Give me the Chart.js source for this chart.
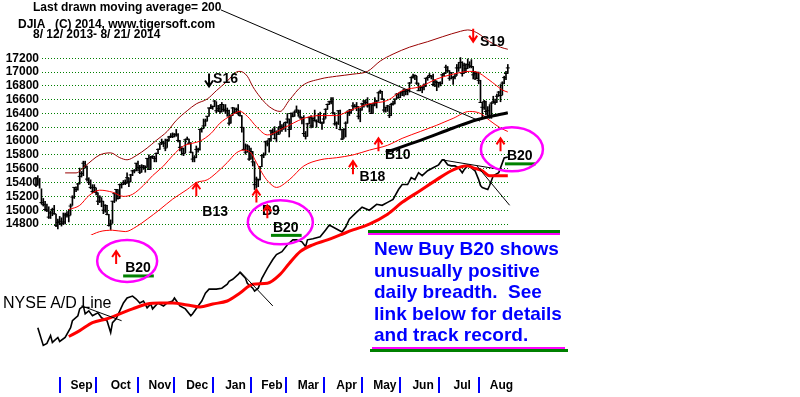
<!DOCTYPE html>
<html>
<head>
<meta charset="utf-8">
<title>DJIA 8/12/2013 - 8/21/2014 with NYSE A/D Line</title>
<script src="https://cdn.jsdelivr.net/npm/chart.js@4.4.1/dist/chart.umd.min.js"></script>
<style>
  html, body { margin: 0; padding: 0; background: #fff; }
  #wrap { position: relative; width: 800px; height: 397px; overflow: hidden; font-family: 'Liberation Sans', Arial, sans-serif; }
  #chart { position: absolute; left: 0; top: 0; }
  .hdr { position: absolute; font-weight: bold; font-size: 12px; line-height: 14px; color: #000; white-space: pre; }
  #adLabel { position: absolute; left: 3px; top: 294px; font-size: 16px; line-height: 18px; color: #000; white-space: nowrap; }
  #note { position: absolute; left: 374px; top: 238px; font-weight: bold; font-size: 19px; line-height: 21.5px; color: #0000ff; white-space: pre; }
  .rule { position: absolute; }
</style>
</head>
<body>
<div id="wrap">
  <canvas id="chart" width="800" height="397"></canvas>
  <div class="hdr" style="left:33px;top:0px">Last drawn moving average= 200</div>
  <div class="hdr" style="left:18px;top:17px">DJIA   (C) 2014, www.tigersoft.com</div>
  <div class="hdr" style="left:33px;top:27px">8/ 12/ 2013- 8/ 21/ 2014</div>
  <div id="adLabel">NYSE A/D Line</div>
  <div class="rule" style="left:368px;top:230px;width:192px;height:3px;background:#008000"></div>
  <div class="rule" style="left:368px;top:233px;width:192px;height:2px;background:#ff00ff"></div>
  <div class="rule" style="left:372px;top:347px;width:193px;height:2px;background:#ff00ff"></div>
  <div class="rule" style="left:370px;top:349px;width:198px;height:3px;background:#008000"></div>
  <div id="note">New Buy B20 shows
unusually positive
daily breadth.  See
link below for details
and track record.</div>
</div>
<script>
// ---- data: trading days 0..259 = 8/12/2013 .. 8/21/2014 ----
const monthLabels = ['Sep', 'Oct', 'Nov', 'Dec', 'Jan', 'Feb', 'Mar', 'Apr', 'May', 'Jun', 'Jul', 'Aug'];
const monthStarts = [15, 35, 58, 78, 99, 120, 139, 160, 181, 202, 223, 245];
const yTicks = [14800, 15000, 15200, 15400, 15600, 15800, 16000, 16200, 16400, 16600, 16800, 17000, 17200];

const closes = [
  15420, 15450, 15340, 15110, 15080, 15010, 15000, 14900, 14960, 15010, 14950, 14780, 14820, 14840, 14810,
  14830, 14930, 14940, 14920, 15060, 15190, 15330, 15300, 15380, 15490, 15530, 15680, 15640, 15450, 15400, 15330, 15270, 15330, 15260, 15130,
  15190, 15130, 15000, 15070, 14940, 14780, 14800, 15130, 15240, 15300, 15170, 15370, 15370, 15400, 15390, 15470, 15410, 15510, 15570, 15570, 15680, 15620, 15550,
  15620, 15640, 15620, 15750, 15590, 15760, 15780, 15750, 15820, 15880, 15960, 15980, 15970, 15900, 16010, 16060, 16070, 16070, 16100, 16090,
  16010, 15910, 15890, 15820, 16020, 16030, 15970, 15840, 15740, 15760, 15880, 15880, 16170, 16180, 16220, 16290, 16360, 16480, 16480, 16500, 16580,
  16440, 16470, 16430, 16530, 16460, 16440, 16440, 16260, 16370, 16480, 16420, 16460, 16410, 16370, 16200, 15880, 15840, 15930, 15740, 15850, 15700,
  15370, 15450, 15440, 15630, 15790, 15800, 15990, 15960, 16030, 16150, 16130, 16040, 16130, 16100, 16210, 16180, 16200, 16270, 16320,
  16170, 16400, 16360, 16420, 16450, 16420, 16350, 16340, 16110, 16070, 16250, 16340, 16220, 16330, 16300, 16280, 16370, 16270, 16260, 16320, 16460,
  16530, 16570, 16570, 16410, 16250, 16260, 16440, 16170, 16030, 16170, 16260, 16420, 16410, 16450, 16510, 16500, 16500, 16360, 16450, 16540, 16580,
  16560, 16510, 16530, 16400, 16520, 16550, 16580, 16700, 16720, 16610, 16450, 16490, 16510, 16370, 16530, 16540, 16610, 16680, 16630, 16700, 16720,
  16740, 16720, 16740, 16840, 16920, 16940, 16950, 16840, 16730, 16780, 16780, 16810, 16910, 16920, 16950, 16940, 16820, 16870, 16850, 16850, 16830,
  16960, 16980, 17070, 17020, 16910, 16990, 16920, 16940, 17060, 17060, 17140, 16980, 17100, 17050, 17110, 17090, 17080, 16960, 16980, 16910, 16880, 16560,
  16490, 16570, 16430, 16440, 16370, 16550, 16570, 16560, 16650, 16710, 16660, 16840, 16920, 16980, 17060
];
const highs = [
  15460, 15500, 15460, 15310, 15170, 15130, 15090, 15050, 14990, 15030, 15070, 14940, 14870, 14910, 14890,
  14960, 14960, 14980, 15010, 15090, 15210, 15330, 15340, 15390, 15610, 15560, 15710, 15710, 15640, 15470, 15440, 15370, 15370, 15320, 15250,
  15210, 15180, 15130, 15080, 15070, 14940, 14860, 15130, 15250, 15300, 15300, 15380, 15390, 15430, 15440, 15540, 15470, 15520, 15580, 15590, 15680, 15710, 15650,
  15660, 15650, 15640, 15750, 15800, 15780, 15790, 15780, 15830, 15890, 15960, 16030, 16000, 16030, 16030, 16070, 16110, 16120, 16110, 16170,
  16110, 16010, 15920, 15900, 16030, 16060, 16030, 15980, 15840, 15790, 15930, 15900, 16170, 16190, 16320, 16320, 16360, 16480, 16530, 16510, 16590,
  16570, 16520, 16530, 16560, 16530, 16530, 16480, 16450, 16380, 16490, 16480, 16480, 16530, 16440, 16370, 16200, 15960, 15950, 15930, 15900, 15850,
  15700, 15480, 15450, 15630, 15800, 15830, 16000, 16010, 16040, 16160, 16180, 16210, 16150, 16200, 16290, 16240, 16260, 16280, 16400,
  16320, 16410, 16410, 16440, 16510, 16450, 16450, 16340, 16370, 16140, 16260, 16350, 16370, 16340, 16450, 16310, 16400, 16420, 16280, 16400, 16470,
  16540, 16580, 16630, 16630, 16410, 16280, 16440, 16450, 16170, 16180, 16280, 16440, 16460, 16460, 16560, 16530, 16560, 16500, 16480, 16550, 16590,
  16600, 16630, 16540, 16530, 16550, 16630, 16590, 16710, 16740, 16720, 16610, 16490, 16520, 16510, 16550, 16580, 16610, 16690, 16690, 16710, 16720,
  16750, 16740, 16750, 16850, 16930, 16970, 16960, 16940, 16840, 16790, 16790, 16830, 16910, 16940, 16980, 16950, 16970, 16890, 16870, 16850, 16860,
  16970, 16990, 17100, 17080, 17020, 16990, 16940, 16970, 17110, 17140, 17210, 17150, 17130, 17120, 17190, 17150, 17180, 17080, 17010, 17000, 17000, 16880,
  16560, 16590, 16580, 16500, 16530, 16560, 16650, 16610, 16680, 16720, 16820, 16860, 16940, 17010, 17110
];
const lows = [
  15340, 15360, 15320, 15090, 15060, 14990, 14980, 14880, 14880, 14920, 14940, 14760, 14730, 14790, 14770,
  14790, 14800, 14900, 14830, 14930, 15070, 15170, 15270, 15290, 15380, 15480, 15500, 15610, 15420, 15370, 15310, 15250, 15260, 15220, 15080,
  15110, 15050, 14950, 14970, 14930, 14770, 14720, 14810, 15110, 15130, 15160, 15170, 15320, 15370, 15370, 15390, 15340, 15410, 15500, 15540, 15570, 15570, 15530,
  15550, 15590, 15550, 15620, 15590, 15590, 15750, 15700, 15700, 15820, 15880, 15950, 15920, 15860, 15910, 16000, 16050, 16050, 16060, 16070,
  15990, 15860, 15800, 15790, 15830, 16020, 15960, 15830, 15700, 15700, 15760, 15840, 15870, 16130, 16180, 16220, 16290, 16360, 16470, 16460, 16500,
  16410, 16430, 16400, 16420, 16430, 16400, 16360, 16230, 16260, 16370, 16400, 16400, 16380, 16360, 16130, 15870, 15810, 15840, 15720, 15740, 15640,
  15300, 15320, 15340, 15440, 15630, 15760, 15800, 15930, 15840, 16000, 16090, 16030, 15990, 16100, 16110, 16140, 16170, 16140, 16260,
  16060, 16170, 16350, 16360, 16420, 16360, 16330, 16250, 16070, 16030, 16070, 16250, 16190, 16200, 16290, 16200, 16280, 16260, 16170, 16260, 16330,
  16460, 16530, 16540, 16390, 16230, 16180, 16240, 16160, 16020, 16040, 16060, 16260, 16370, 16400, 16450, 16490, 16440, 16320, 16280, 16450, 16490,
  16530, 16490, 16420, 16400, 16400, 16510, 16480, 16580, 16690, 16600, 16420, 16420, 16430, 16340, 16370, 16520, 16540, 16610, 16620, 16630, 16660,
  16650, 16670, 16670, 16710, 16840, 16910, 16890, 16820, 16730, 16730, 16700, 16740, 16790, 16880, 16920, 16900, 16800, 16790, 16730, 16780, 16800,
  16830, 16940, 16980, 17000, 16880, 16900, 16820, 16900, 16950, 17010, 17060, 16940, 16980, 16990, 17050, 17060, 17060, 16900, 16890, 16900, 16830, 16560,
  16330, 16460, 16380, 16340, 16330, 16330, 16550, 16530, 16560, 16650, 16570, 16670, 16830, 16890, 16980
];

// price bands (read at irregular trading days)
const upperDays = [16, 22, 27, 35, 41, 46, 50, 55, 61, 66, 72, 77, 83, 88, 94, 99, 105, 110, 112, 116, 119, 123, 128, 134, 139, 146, 156, 165, 174, 182, 189, 196, 205, 215, 223, 233, 237, 242, 249, 255, 259];
const upperBand = [15540, 15540, 15640, 15800, 15830, 15760, 15730, 15790, 15900, 16010, 16140, 16300, 16440, 16540, 16610, 16730, 16870, 17000, 17010, 16940, 16790, 16640, 16500, 16430, 16590, 16800, 16900, 16940, 16970, 17010, 17160, 17260, 17360, 17440, 17510, 17590, 17610, 17570, 17440, 17360, 17330];
const midDays = [18, 24, 29, 35, 42, 48, 53, 59, 64, 70, 75, 81, 86, 90, 96, 101, 107, 112, 116, 121, 127, 136, 147, 156, 165, 172, 183, 193, 201, 211, 220, 229, 238, 242, 248, 253, 256, 259];
const midBand = [15010, 15070, 15210, 15290, 15260, 15200, 15230, 15360, 15500, 15640, 15790, 15930, 15970, 16000, 16110, 16260, 16370, 16430, 16360, 16210, 16090, 16190, 16330, 16370, 16370, 16440, 16540, 16590, 16730, 16790, 16900, 16970, 17010, 17000, 16900, 16800, 16740, 16710];
const lowDays = [18, 23, 28, 35, 42, 49, 55, 61, 68, 75, 83, 88, 94, 99, 105, 110, 114, 118, 121, 125, 128, 132, 139, 147, 156, 165, 174, 183, 193, 201, 211, 220, 229, 238, 244, 249, 255, 259];
const lowBand = [14420, 14540, 14610, 14690, 14710, 14690, 14760, 14870, 15010, 15160, 15300, 15400, 15440, 15540, 15690, 15830, 15870, 15830, 15690, 15500, 15400, 15330, 15440, 15640, 15730, 15760, 15800, 15870, 15940, 16040, 16140, 16230, 16330, 16430, 16400, 16300, 16190, 16140];

// 200-day moving average (last drawn)
const ma200Days = [192, 211, 229, 242, 259];
const ma200 = [15840, 16010, 16190, 16310, 16410];

// long DJIA trendline
const trendDays = [101.5, 243.7];
const trendPrices = [17900, 16290];

// NYSE A/D line (index units) and its moving average
const adDays = [0, 1, 4, 6, 8, 9, 12, 13, 16, 19, 20, 23, 24, 26, 27, 29, 31, 34, 36, 39, 41, 42, 44, 46, 48, 50, 53, 55, 57, 59, 61, 63, 64, 67, 70, 72, 75, 76, 79, 82, 85, 86, 89, 91, 93, 95, 99, 102, 105, 106, 108, 111, 112, 115, 116, 119, 120, 122, 124, 127, 130, 132, 135, 138, 141, 143, 146, 148, 149, 152, 156, 159, 161, 165, 168, 170, 172, 176, 179, 183, 187, 190, 193, 196, 199, 201, 204, 206, 208, 210, 212, 215, 218, 221, 223, 224, 226, 228, 230, 232, 234, 235, 237, 239, 241, 243, 244, 245, 248, 249, 251, 254, 256, 257, 259];
const adLine = [21.2, 19.2, 12, 12.8, 16, 13.2, 15.2, 13.6, 15.2, 19.2, 22, 24, 26.8, 28, 24.8, 26, 24, 25.2, 23.2, 22, 17.2, 21.2, 22.8, 26, 29.2, 31.2, 32, 30.8, 29.2, 30, 27.2, 28.8, 26.8, 29.2, 28, 29.2, 30, 31.2, 28, 26.8, 24, 24.8, 28, 30, 33.2, 34.8, 34.8, 35.2, 36.8, 38, 38.8, 40.8, 41.6, 39.2, 37.2, 35.2, 34, 35.2, 39.2, 43.2, 46.8, 48.8, 50, 52.8, 54.8, 54.8, 54, 52, 54.8, 55.2, 56, 58.8, 60.8, 59.2, 58, 60, 63.2, 66, 68, 66.8, 69.2, 68.8, 70, 71.2, 75.2, 77.2, 77.2, 80, 79.2, 82, 80.8, 82.8, 84, 85.2, 87.2, 87.2, 85.2, 84.8, 84.8, 84, 82, 83.2, 84.8, 84, 82.8, 79.2, 76.8, 76, 75.2, 76.8, 80.8, 82, 86, 88, 88.4];
const adMaDays = [18, 24, 31, 39, 46, 53, 61, 68, 75, 83, 90, 97, 105, 112, 119, 127, 134, 139, 145, 152, 160, 167, 174, 183, 193, 201, 211, 220, 229, 237, 240, 245, 249, 255, 259];
const adMa = [15.6, 18, 21.2, 22.8, 24.8, 26.8, 28.8, 29.2, 29.2, 28.4, 27.6, 28.8, 30, 33.2, 36.8, 37.2, 40.8, 45.2, 50, 52.8, 54.8, 56.8, 58.8, 61.2, 65.2, 70, 74.8, 79.2, 83.2, 84.8, 84, 82.8, 80.8, 80.8, 80.8];
const adTrendDays = [[25, 47], [112, 130], [223, 256], [242, 260]];
const adTrendValues = [[28, 22], [42, 28], [87.2, 83.2], [84.8, 68.8]];

// TigerSoft signals
const signalLabels = ['B20', 'S16', 'B13', 'B9', 'B20', 'B18', 'B10', 'S19', 'B20'];
const signalDays = [44, 95, 88, 121, 127, 174, 188, 240, 255];
const signalLevels = [14410, 16790, 15390, 15300, 15070, 15710, 16040, 17440, 16040];

// ---- drawing ----
Chart.defaults.font.family = "'Liberation Sans', Arial, sans-serif";

// where each signal's text / ring sits relative to its arrow (pixels)
const signalMarks = [
  { color: '#ff0000', dx: 9, dy: 17.5, ring: [11, 10, 30, 21], underline: true },
  { color: '#000000', dx: 4, dy: -7 },
  { color: '#ff0000', dx: 6, dy: 29 },
  { color: '#ff0000', dx: 5.5, dy: 22 },
  { color: '#ff0000', dx: 5.6, dy: 22.5, ring: [13, 17, 32.5, 22], underline: true },
  { color: '#ff0000', dx: 6.6, dy: 16 },
  { color: '#ff0000', dx: 6.5, dy: 17 },
  { color: '#ff0000', dx: 6.7, dy: 0 },
  { color: '#ff0000', dx: 6.4, dy: 18, ring: [11.4, 11, 31, 22], underline: true }
];

function drawArrow(ctx, px, py, up, color) {
  const d = up ? 1 : -1;
  ctx.strokeStyle = color;
  ctx.lineWidth = 2;
  ctx.beginPath();
  ctx.moveTo(px, py + d * 13);
  ctx.lineTo(px, py + d);
  ctx.moveTo(px - 4, py + d * 6);
  ctx.lineTo(px, py);
  ctx.lineTo(px + 4, py + d * 6);
  ctx.stroke();
}

const tigerOverlay = {
  id: 'tigerOverlay',
  afterDraw(chart) {
    const { ctx } = chart;
    const x = chart.scales.x, y = chart.scales.y;
    ctx.save();

    // blue month separators
    ctx.fillStyle = '#0000ff';
    monthStarts.forEach(d => {
      const px = Math.round(x.getPixelForValue(d - 2));
      ctx.fillRect(px - 1, 377, 2, 16);
    });

    // signal arrows, names, rings
    ctx.font = "bold 14px 'Liberation Sans', Arial, sans-serif";
    ctx.textBaseline = 'middle';
    ctx.textAlign = 'left';
    signalLabels.forEach((label, k) => {
      const m = signalMarks[k];
      const px = x.getPixelForValue(signalDays[k]);
      const py = y.getPixelForValue(signalLevels[k]);
      drawArrow(ctx, px, py, label[0] === 'B', m.color);

      const tx = px + m.dx, ty = py + m.dy;
      ctx.fillStyle = '#000';
      ctx.fillText(label, tx, ty);
      const w = ctx.measureText(label).width;

      if (m.underline) {
        ctx.strokeStyle = '#008000';
        ctx.lineWidth = 3;
        ctx.beginPath();
        ctx.moveTo(tx - 2, ty + 7.5);
        ctx.lineTo(tx + w + 3, ty + 7.5);
        ctx.stroke();
      }
      if (m.ring) {
        ctx.strokeStyle = '#ff00ff';
        ctx.lineWidth = 2.5;
        ctx.beginPath();
        ctx.ellipse(px + m.ring[0], py + m.ring[1], m.ring[2], m.ring[3], 0, 0, Math.PI * 2);
        ctx.stroke();
      }
    });
    ctx.restore();
  }
};

const xy = (days, vals) => days.map((d, i) => ({ x: d, y: vals[i] }));
const lineStyle = { type: 'line', pointRadius: 0, fill: false, clip: false };

const datasets = [];
adTrendDays.forEach((days, k) => {
  datasets.push({ ...lineStyle, data: xy(days, adTrendValues[k]), yAxisID: 'yad', borderColor: '#000', borderWidth: 1 });
});
datasets.push({ ...lineStyle, data: xy(trendDays, trendPrices), borderColor: '#000', borderWidth: 1 });
datasets.push({ ...lineStyle, data: xy(adMaDays, adMa), yAxisID: 'yad', borderColor: '#ff0000', borderWidth: 3, cubicInterpolationMode: 'monotone' });
datasets.push({ ...lineStyle, data: xy(adDays, adLine), yAxisID: 'yad', borderColor: '#000', borderWidth: 1.6 });
datasets.push({ ...lineStyle, data: xy(ma200Days, ma200), borderColor: '#000', borderWidth: 3, cubicInterpolationMode: 'monotone' });
datasets.push({ ...lineStyle, data: xy(upperDays, upperBand), borderColor: '#990000', borderWidth: 1, cubicInterpolationMode: 'monotone' });
datasets.push({ ...lineStyle, data: xy(midDays, midBand), borderColor: '#ff0000', borderWidth: 1, cubicInterpolationMode: 'monotone' });
datasets.push({ ...lineStyle, data: xy(lowDays, lowBand), borderColor: '#ff0000', borderWidth: 1, cubicInterpolationMode: 'monotone',
  clip: { left: 0, top: 0, right: 0, bottom: -140 } });
datasets.push({ type: 'line', data: closes.map((c, i) => ({ x: i, y: c })), showLine: false,
  pointStyle: 'line', pointRadius: 2, pointBorderColor: '#000', pointBorderWidth: 1, clip: false });
datasets.push({ type: 'bar', data: highs.map((h, i) => ({ x: i, y: [lows[i], h] })),
  backgroundColor: '#000', borderWidth: 0, barThickness: 1, clip: false });

new Chart(document.getElementById('chart'), {
  type: 'line',
  data: { datasets },
  options: {
    responsive: false,
    animation: false,
    events: [],
    layout: { padding: { left: 0, top: 0, right: 290, bottom: 0 } },
    plugins: { legend: { display: false }, tooltip: { enabled: false } },
    scales: {
      x: {
        type: 'linear', min: 3.3, max: 260.2, offset: false,
        grid: { display: false, drawTicks: false },
        border: { display: false },
        afterBuildTicks: s => {
          s.ticks = monthStarts.map((d, k) => ({ value: (d + (monthStarts[k + 1] || 266)) / 2 }));
        },
        afterFit: s => { s.height = 22; s.paddingLeft = 0; s.paddingRight = 0; },
        ticks: { autoSkip: false, maxRotation: 0, padding: 3, color: '#000',
          font: { size: 12, weight: 'bold' }, callback: (v, i) => monthLabels[i] }
      },
      y: {
        type: 'linear', min: 12614, max: 17971,
        afterBuildTicks: s => { s.ticks = yTicks.map(v => ({ value: v })); },
        afterFit: s => { s.width = 42; s.paddingTop = 0; s.paddingBottom = 0; },
        grid: { color: '#008000', drawTicks: false },
        border: { display: false, dash: [1, 2] },
        ticks: { padding: 3, color: '#000', font: { size: 12, weight: 'bold' }, callback: v => String(v) }
      },
      yad: { type: 'linear', display: false, min: 0, max: 150 }
    }
  },
  plugins: [tigerOverlay]
});
</script>
</body>
</html>
